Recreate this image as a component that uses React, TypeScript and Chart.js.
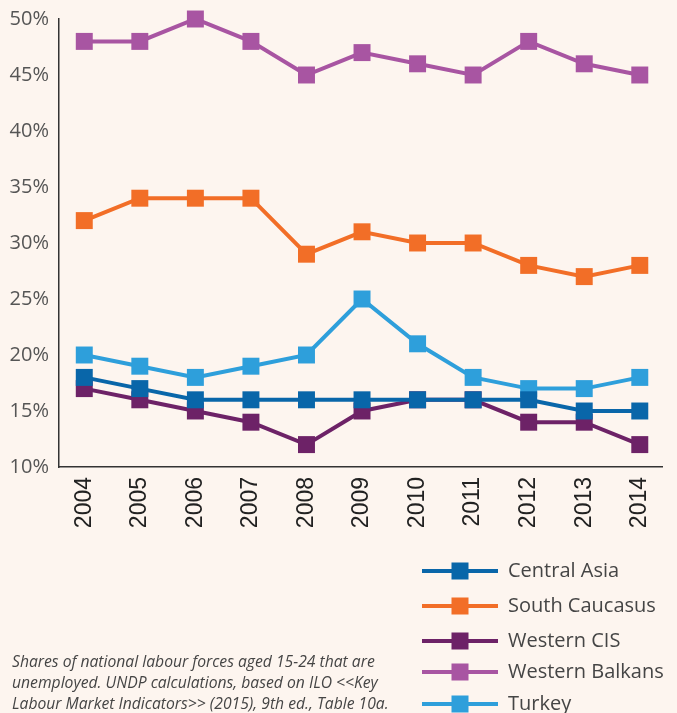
import React, { useEffect, useRef } from "react";
import { Chart, registerables } from "chart.js";

Chart.register(...registerables);

const years = [2004, 2005, 2006, 2007, 2008, 2009, 2010, 2011, 2012, 2013, 2014];
const centralAsia = [18, 17, 16, 16, 16, 16, 16, 16, 16, 15, 15];
const southCaucasus = [32, 34, 34, 34, 29, 31, 30, 30, 28, 27, 28];
const westernCIS = [17, 16, 15, 14, 12, 15, 16, 16, 14, 14, 12];
const westernBalkans = [48, 48, 50, 48, 45, 47, 46, 45, 48, 46, 45];
const turkey = [20, 19, 18, 19, 20, 25, 21, 18, 17, 17, 18];

const seriesNames = ["Central Asia", "South Caucasus", "Western CIS", "Western Balkans", "Turkey"];
const seriesValues = [centralAsia, southCaucasus, westernCIS, westernBalkans, turkey];
const seriesColors = ["#0966a9", "#f26e27", "#6d2267", "#a855a2", "#2e9fdb"];

const footnote = [
  "Shares of national labour forces aged 15-24 that are",
  "unemployed. UNDP calculations, based on ILO <<Key",
  "Labour Market Indicators>> (2015), 9th ed., Table 10a.",
];

const BG = "#fdf5ef";

const bgPlugin = {
  id: "bg",
  beforeDraw(chart: any) {
    const { ctx, width, height } = chart;
    ctx.save();
    ctx.fillStyle = BG;
    ctx.fillRect(0, 0, width, height);
    ctx.restore();
  },
};

const legendRowsY = [571, 606, 641, 672, 704];

const extrasPlugin = {
  id: "extras",
  afterDraw(chart: any) {
    const ctx = chart.ctx;
    ctx.save();
    chart.data.datasets.forEach((ds: any, i: number) => {
      const y = legendRowsY[i];
      ctx.strokeStyle = ds.borderColor;
      ctx.lineWidth = 4;
      ctx.beginPath();
      ctx.moveTo(422, y);
      ctx.lineTo(498, y);
      ctx.stroke();
      ctx.fillStyle = ds.borderColor;
      ctx.fillRect(451.5, y - 8.5, 17, 17);
      ctx.fillStyle = "#454545";
      ctx.font = "20px 'Open Sans'";
      ctx.textBaseline = "middle";
      ctx.textAlign = "left";
      ctx.fillText(ds.label, 508, y);
    });
    ctx.fillStyle = "#454545";
    ctx.font = "italic 15.7px 'Open Sans'";
    ctx.textBaseline = "alphabetic";
    footnote.forEach((line, i) => {
      ctx.fillText(line, 12, 667 + i * 21);
    });
    ctx.restore();
  },
};

export default function App() {
  const ref = useRef<HTMLCanvasElement>(null);
  useEffect(() => {
    if (!ref.current) return;
    const chart = new Chart(ref.current, {
      type: "line",
      data: {
        datasets: seriesNames.map((name, i) => ({
          label: name,
          data: years.map((yr, j) => ({ x: yr, y: seriesValues[i][j] })),
          borderColor: seriesColors[i],
          backgroundColor: seriesColors[i],
          pointBackgroundColor: seriesColors[i],
          pointBorderWidth: 0,
          pointStyle: "rect",
          pointRadius: 12,
          borderWidth: 4,
          tension: 0,
          fill: false,
          clip: false,
        })),
      },
      options: {
        animation: false,
        responsive: false,
        maintainAspectRatio: false,
        layout: { autoPadding: false, padding: { top: 19, right: 15, bottom: 176, left: 0 } },
        plugins: { legend: { display: false }, tooltip: { enabled: false } },
        scales: {
          x: {
            type: "linear",
            min: 2003.545,
            max: 2014.4,
            grid: { display: false, drawTicks: false },
            border: { display: true, color: "#333", width: 1.5 },
            afterBuildTicks: (scale: any) => {
              scale.ticks = years.map((v) => ({ value: v }));
            },
            afterFit: (scale: any) => {
              scale.height = 70;
              scale.paddingLeft = 0;
              scale.paddingRight = 0;
            },
            ticks: {
              autoSkip: false,
              maxRotation: 90,
              minRotation: 90,
              padding: 10,
              color: "#222",
              font: { family: "'Liberation Sans'", size: 23 },
              callback: (v: any) => String(v),
            },
          },
          y: {
            min: 10,
            max: 50,
            grid: { display: false, drawTicks: false },
            border: { display: true, color: "#333", width: 1.5 },
            afterFit: (scale: any) => {
              scale.width = 59;
              scale.paddingTop = 0;
              scale.paddingBottom = 0;
            },
            ticks: {
              stepSize: 5,
              padding: 10,
              color: "#555",
              font: { family: "'Open Sans'", size: 20 },
              callback: (v: any) => v + "%",
            },
          },
        },
      },
      plugins: [bgPlugin, extrasPlugin],
    } as any);
    return () => chart.destroy();
  }, []);
  return (
    <div style={{ position: "fixed", top: 0, left: 0, width: 677, height: 713, background: BG }}>
      <canvas ref={ref} width={677} height={713} style={{ display: "block" }} />
    </div>
  );
}
